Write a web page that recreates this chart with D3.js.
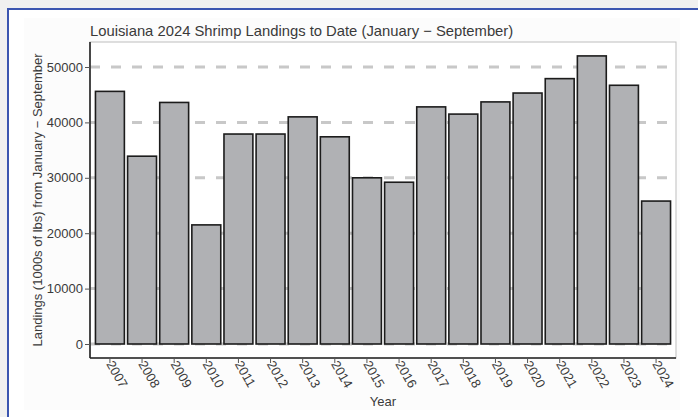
<!DOCTYPE html>
<html>
<head>
<meta charset="utf-8">
<script src="https://cdn.jsdelivr.net/npm/d3@7"></script>
<style>
  body { margin: 0; background: #f0f0f0; }
  svg { display: block; font-family: "Liberation Sans", Arial, sans-serif; }
</style>
</head>
<body>
<svg width="698" height="417"></svg>
<script>
// data
var years = ['2007','2008','2009','2010','2011','2012','2013','2014','2015',
             '2016','2017','2018','2019','2020','2021','2022','2023','2024'];
var landings = [45600, 33900, 43600, 21500, 37900, 37900, 41000, 37400, 30000,
                29200, 42800, 41500, 43700, 45300, 47900, 52000, 46700, 25800];
var yTicks = [0, 10000, 20000, 30000, 40000, 50000];
var gridTicks = [0, 10000, 20000, 30000, 40000, 50000];

var svg = d3.select("svg");

// frame round the picture
svg.append("rect").attr("x", 8).attr("y", 9).attr("width", 700).attr("height", 420)
    .attr("fill", "#ffffff");
svg.append("rect").attr("x", 24).attr("y", 18).attr("width", 656).attr("height", 392)
    .attr("fill", "#fcfcfc");
svg.append("line").attr("x1", 7).attr("x2", 698).attr("y1", 9).attr("y2", 9)
    .attr("stroke", "#3b55b0").attr("stroke-width", 2);
svg.append("line").attr("x1", 8).attr("x2", 8).attr("y1", 8).attr("y2", 417)
    .attr("stroke", "#3b55b0").attr("stroke-width", 2);

var pLeft = 90, pRight = 676, pTop = 42, pBottom = 358;

var x = d3.scaleBand()
    .domain(years)
    .range([pLeft, pRight])
    .paddingInner(0.1)
    .paddingOuter(0.17);

var y = d3.scaleLinear()
    .domain([0, 50000])
    .range([344, 67]);

// panel border
svg.append("rect").attr("x", pLeft).attr("y", pTop)
    .attr("width", pRight - pLeft).attr("height", pBottom - pTop)
    .attr("fill", "#ffffff").attr("stroke", "#bdbdbd").attr("stroke-width", 1);

// dashed grid
svg.append("g").selectAll("line")
    .data(gridTicks)
    .enter()
    .append("line")
    .attr("x1", pLeft).attr("x2", pRight)
    .attr("y1", d => y(d)).attr("y2", d => y(d))
    .attr("stroke", "#c8c8c8")
    .attr("stroke-width", 3)
    .attr("stroke-dasharray", "10,11");

// bars
svg.append("g").selectAll("rect")
    .data(landings)
    .enter()
    .append("rect")
    .attr("x", (d, i) => x(years[i]))
    .attr("y", d => y(d))
    .attr("width", x.bandwidth())
    .attr("height", d => y(0) - y(d))
    .attr("fill", "#b0b1b4")
    .attr("stroke", "#1c1c1c")
    .attr("stroke-width", 1.6);

// y axis
var yAxis = svg.append("g")
    .attr("transform", "translate(" + pLeft + ",0)")
    .call(d3.axisLeft(y).tickValues(yTicks).tickFormat(d3.format("d")).tickSize(5).tickPadding(2));
yAxis.select(".domain").attr("d", "M0," + pTop + "V" + pBottom)
    .attr("stroke", "#222").attr("stroke-width", 1.6);
yAxis.selectAll(".tick line").attr("stroke", "#555");
yAxis.selectAll(".tick text").attr("font-size", 13).attr("fill", "#3a3a3a")
    .attr("font-family", "Liberation Sans, Arial, sans-serif");

// x axis
var xAxis = svg.append("g")
    .attr("transform", "translate(0," + pBottom + ")")
    .call(d3.axisBottom(x).tickSize(5).tickSizeOuter(0));
xAxis.select(".domain").attr("d", "M" + pLeft + ",0H" + pRight)
    .attr("stroke", "#222").attr("stroke-width", 1.6);
xAxis.selectAll(".tick line").attr("stroke", "#555");
xAxis.selectAll(".tick text")
    .attr("font-size", 13).attr("fill", "#3a3a3a")
    .attr("font-family", "Liberation Sans, Arial, sans-serif")
    .attr("text-anchor", "start")
    .attr("dy", null)
    .attr("y", 0)
    .attr("transform", "translate(-4,6) rotate(60)");

// titles
svg.append("text")
    .attr("x", pLeft).attr("y", 36)
    .attr("font-size", 14.8).attr("fill", "#3a3a3a")
    .text("Louisiana 2024 Shrimp Landings to Date (January \u2212 September)");

svg.append("text")
    .attr("transform", "translate(42," + ((pTop + pBottom) / 2) + ") rotate(-90)")
    .attr("text-anchor", "middle")
    .attr("font-size", 13).attr("fill", "#3a3a3a")
    .text("Landings (1000s of lbs) from January \u2212 September");

svg.append("text")
    .attr("x", (pLeft + pRight) / 2).attr("y", 406)
    .attr("text-anchor", "middle")
    .attr("font-size", 13).attr("fill", "#3a3a3a")
    .text("Year");
</script>
</body>
</html>
